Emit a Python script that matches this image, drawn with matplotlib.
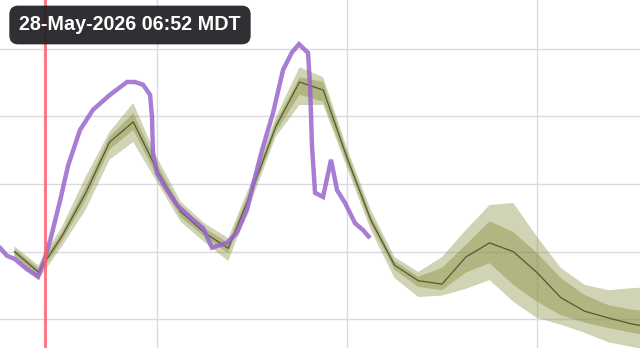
import matplotlib.pyplot as plt
import numpy as np

# forecast lead hours (from 00:00 28-May) and stage values
fc_hours = [3, 6, 9, 12, 15, 18, 21, 24, 27, 30, 33, 36, 39, 42, 45, 48, 51, 54,
            57, 60, 63, 66, 69, 72, 75, 78, 81, 84]
fc_median = [3.00, 2.70, 3.23, 3.87, 4.62, 4.92, 4.21, 3.59, 3.28, 3.05, 3.91, 4.85,
             5.51, 5.39, 4.39, 3.47, 2.80, 2.57, 2.52, 2.92, 3.13, 3.00, 2.69, 2.32,
             2.12, 2.02, 1.93, 1.87]
fc_outer_hi = [3.08, 2.80, 3.37, 4.11, 4.77, 5.20, 4.39, 3.74, 3.42, 3.20, 4.06, 4.99,
               5.73, 5.58, 4.53, 3.62, 2.92, 2.70, 2.92, 3.32, 3.69, 3.72, 3.22, 2.76,
               2.51, 2.43, 2.46, 2.48]
fc_outer_lo = [2.92, 2.58, 3.08, 3.62, 4.36, 4.62, 4.03, 3.44, 3.14, 2.86, 3.77, 4.70,
               5.17, 5.17, 4.24, 3.32, 2.61, 2.33, 2.35, 2.45, 2.58, 2.26, 2.02, 1.92,
               1.80, 1.66, 1.59, 1.52]
fc_inner_hi = [3.04, 2.76, 3.29, 3.96, 4.70, 5.05, 4.30, 3.66, 3.35, 3.13, 3.99, 4.92,
               5.58, 5.51, 4.46, 3.54, 2.86, 2.63, 2.76, 3.10, 3.45, 3.29, 2.98, 2.61,
               2.36, 2.21, 2.14, 2.11]
fc_inner_lo = [2.95, 2.64, 3.16, 3.77, 4.51, 4.80, 4.12, 3.51, 3.22, 2.98, 3.84, 4.77,
               5.32, 5.22, 4.31, 3.40, 2.73, 2.48, 2.43, 2.69, 2.83, 2.51, 2.26, 2.06,
               1.95, 1.87, 1.80, 1.74]

# observed
obs_hours = [1.0, 2.05, 3.06, 4.58, 5.97, 6.60, 7.49, 8.75, 9.76, 11.27, 12.92, 15.06,
             17.21, 18.22, 19.23, 20.12, 20.37, 20.49, 21.0, 22.26, 23.53, 25.17, 26.81,
             27.95, 29.84, 31.10, 32.37, 33.13, 34.26, 35.65, 36.92, 38.05, 38.94, 40.08,
             40.33, 40.58, 40.96, 41.97, 42.98, 43.74, 44.75, 46.01, 47.02, 47.90]
obs_stage = [3.08, 2.94, 2.89, 2.74, 2.63, 2.82, 3.16, 3.75, 4.27, 4.80, 5.10, 5.32,
             5.51, 5.51, 5.47, 5.32, 4.99, 4.46, 4.16, 3.91, 3.69, 3.51, 3.35,
             3.06, 3.13, 3.28, 3.62, 3.99, 4.50, 5.05, 5.69, 5.95, 6.07, 5.94,
             5.44, 4.55, 3.87, 3.81, 4.36, 3.91, 3.72, 3.42, 3.32, 3.20]

now_hour = 6.87
grid_hours = [21, 45, 69]
grid_stage = [2, 3, 4, 5, 6]

fig = plt.figure(figsize=(6.4, 3.48), dpi=100)
ax = fig.add_axes([0, 0, 1, 1])
ax.set_xlim(1.17, 82.0)
ax.set_ylim(1.575, 6.723)

for h in grid_hours:
    ax.axvline(h, color='#ddd8e2', lw=1, zorder=0)
for s in grid_stage:
    ax.axhline(s, color='#ddd8e2', lw=1, zorder=0)

ax.fill_between(fc_hours, fc_outer_lo, fc_outer_hi, color='#8a9245', alpha=0.4, lw=0, zorder=2)
ax.fill_between(fc_hours, fc_inner_lo, fc_inner_hi, color='#8a9245', alpha=0.45, lw=0, zorder=2)
ax.plot(fc_hours, fc_median, color='#55592c', lw=0.9, zorder=3)

ax.plot(obs_hours, obs_stage, color='#9966cc', lw=3.2, alpha=0.85, zorder=4,
        solid_joinstyle='miter', solid_capstyle='butt')

ax.axvline(now_hour, color='#ff5f6e', lw=2, alpha=0.9, zorder=5)

for sp in ax.spines.values():
    sp.set_visible(False)
ax.set_xticks([])
ax.set_yticks([])

fig.text(130 / 640, 1 - 25 / 348, '28-May-2026 06:52 MDT', ha='center', va='center',
         color='white', fontsize=14.2, fontweight='bold', family=['Liberation Sans', 'DejaVu Sans'],
         bbox=dict(boxstyle='round,pad=0.5,rounding_size=0.45', fc='#202024', ec='none', alpha=0.93),
         zorder=10)

fig.savefig('out.png', dpi=100)
